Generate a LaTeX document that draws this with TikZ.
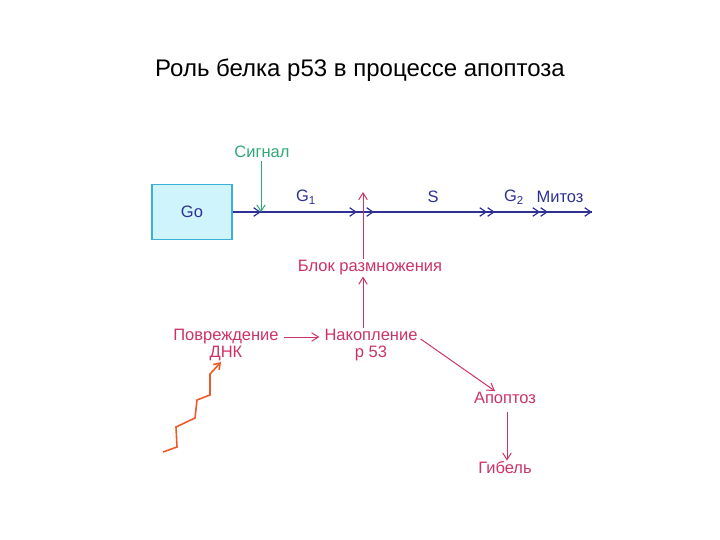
\documentclass[tikz,border=0pt]{standalone}
\usepackage{fontspec}
\setmainfont{Liberation Sans}
\usetikzlibrary{arrows.meta,positioning}
\definecolor{kpink}{HTML}{CC3366}
\definecolor{knavy}{HTML}{2E3192}
\definecolor{kgreen}{HTML}{2FA878}
\definecolor{kcyan}{HTML}{3AAFD9}
\definecolor{kcyanl}{HTML}{CFF4FC}
\definecolor{korange}{HTML}{F05A28}

\begin{document}
\begin{tikzpicture}[x=1pt, y=-1pt, font=\fontsize{16.5}{17}\selectfont,
  lbl/.style={text=kpink, align=center, inner sep=1pt},
  arr/.style={-{Straight Barb[length=2.4mm,width=3mm]}, kpink, line width=1pt},
  cyc/.style={knavy, line width=1.2pt},
  tip1/.style={-{Straight Barb[length=2.2mm,width=3mm]}},
  tip2/.style={-{Straight Barb[length=2.2mm,width=3mm] Straight Barb[length=2.2mm,width=3mm]}}]
\useasboundingbox (0,0) rectangle (720,540);
\node[font=\fontsize{24}{26}\selectfont] (title) at (360,70) {Роль белка р53 в процессе апоптоза};
% cell cycle line
\node[draw=kcyan, fill=kcyanl, line width=1.2pt, minimum width=80pt, minimum height=55pt, text=knavy] (go) at (192,212) {Go};
\coordinate (sg) at (261,212);
\coordinate (b1) at (357,212);
\coordinate (bl) at (374,212);
\coordinate (ss) at (495,212);
\coordinate (gg) at (548,212);
\coordinate (mt) at (592,212);
\draw[cyc] (go) -- (mt);
\draw[cyc, tip1] (go) -- (sg);
\draw[cyc, tip1] (sg) -- (b1);
\draw[cyc, tip1] (b1) -- (bl);
\draw[cyc, tip2] (bl) -- (ss);
\draw[cyc, tip2] (ss) -- (gg);
\draw[cyc, tip1] (gg) -- (mt);
\node[text=knavy] (g1) at (306,197) {G\textsubscript{1}};
\node[text=knavy] (s) at (433,197) {S};
\node[text=knavy] (g2) at (514,197) {G\textsubscript{2}};
\node[text=knavy] (mitoz) at (560,197) {Митоз};
\node[text=kgreen] (signal) at (262,152) {Сигнал};
\draw[-{Straight Barb[length=2.2mm,width=3mm]}, kgreen, line width=1pt] (signal.south -| sg) -- (sg);
% p53
\coordinate (up) at (363,192);
\node[lbl] (blok) at (370,268) {Блок размножения};
\node[lbl] (nak) at (371,345) {Накопление\\р 53};
\node[lbl] (dmg) at (226,345) {Повреждение\\ДНК};
\node[lbl] (apo) at (505,398) {Апоптоз};
\node[lbl] (gib) at (505,468) {Гибель};
\draw[arr] (blok.north -| up) -- (up);
\draw[arr] (nak.north -| up) -- (blok.south -| up);
\draw[arr] ([yshift=8pt]dmg.east) ++(4pt,0) -- ([yshift=8pt,xshift=-4pt]nak.west);
\draw[arr] ([yshift=6pt,xshift=2pt]nak.east) -- ([xshift=-10pt]apo.north);
\draw[arr] (apo) ++(2pt,-14pt) -- ([xshift=2pt]gib.north);
\draw[korange, line width=1.6pt, -{Straight Barb[length=2mm,width=2.8mm]}]
  (163,452) -- (177,447) -- (176,427) -- (195,418) -- (197,400) -- (210,395) -- (210,374) -- ([xshift=-5pt]dmg.south);
\end{tikzpicture}
\end{document}
